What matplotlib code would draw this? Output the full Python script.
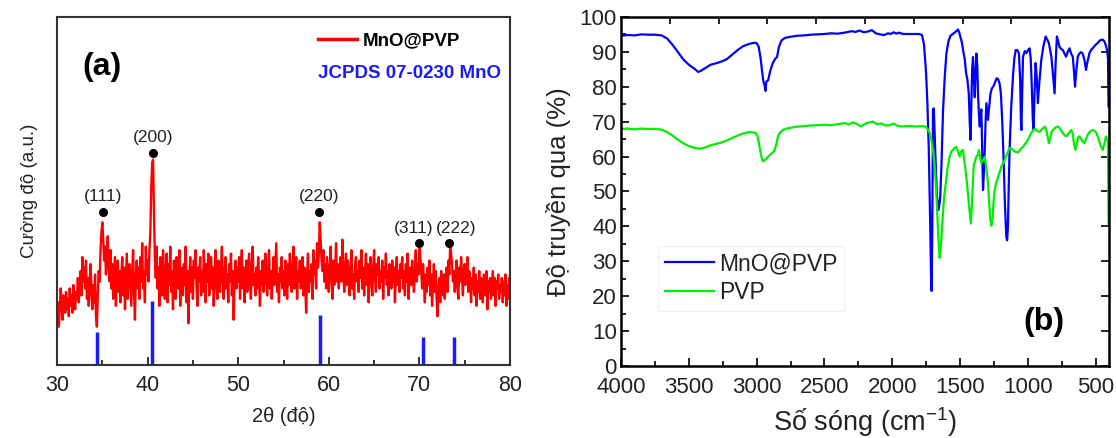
import matplotlib
matplotlib.use("Agg")
import matplotlib.pyplot as plt
import numpy as np
from matplotlib.ticker import MultipleLocator, FixedLocator, NullFormatter

plt.rcParams['font.family'] = ['Liberation Sans', 'DejaVu Sans']
plt.rcParams['mathtext.fontset'] = 'custom'
plt.rcParams['mathtext.rm'] = 'Liberation Sans'
plt.rcParams['mathtext.it'] = 'Liberation Sans:italic'

# ---------------- (a) XRD data ----------------
xrd_start = 30.0
xrd_step = 0.1
xrd_intensity = [
    14, 18, 11, 16, 22, 19, 13, 20, 17, 15,
    21, 16, 19, 14, 22, 17, 20, 15, 23, 18,
    16, 21, 19, 25, 18, 23, 27, 20, 31, 24,
    28, 22, 30, 19, 25, 17, 24, 29, 21, 16,
    23, 18, 26, 14, 11, 20, 27, 24, 33, 38,
    41, 36, 30, 34, 26, 31, 37, 28, 24, 33,
    22, 29, 19, 26, 31, 17, 24, 30, 21, 27,
    18, 25, 31, 20, 28, 16, 24, 32, 19, 26,
    29, 23, 17, 27, 33, 21, 13, 25, 30, 22,
    28, 19, 31, 24, 35, 22, 27, 18, 34, 26,
    30, 24, 33, 38, 51, 58, 59, 44, 31, 25,
    34, 22, 28, 17, 31, 25, 20, 33, 27, 19,
    26, 32, 18, 29, 23, 34, 21, 27, 16, 30,
    24, 19, 31, 26, 22, 33, 17, 28, 25, 20,
    29, 23, 34, 18, 27, 12, 24, 31, 21, 28,
    19, 30, 25, 33, 22, 17, 28, 24, 31, 20,
    27, 21, 33, 26, 18, 29, 24, 32, 20, 25,
    31, 22, 28, 17, 26, 33, 23, 19, 30, 25,
    21, 28, 34, 24, 19, 27, 31, 22, 26, 18,
    29, 24, 32, 20, 27, 13, 25, 30, 22, 28,
    24, 31, 19, 27, 33, 22, 28, 18, 25, 30,
    21, 27, 32, 24, 19, 29, 34, 23, 26, 20,
    28, 22, 31, 25, 17, 27, 23, 30, 21, 26,
    32, 24, 20, 28, 33, 22, 27, 19, 25, 31,
    23, 29, 35, 21, 26, 18, 28, 24, 31, 22,
    27, 20, 30, 25, 19, 29, 23, 32, 26, 21,
    28, 34, 22, 26, 31, 19, 27, 24, 30, 22,
    25, 31, 20, 28, 23, 15, 26, 32, 21, 27,
    24, 29, 19, 33, 26, 30, 22, 35, 28, 32,
    41, 36, 30, 27, 33, 24, 29, 22, 31, 26,
    21, 28, 34, 25, 19, 30, 23, 27, 35, 24,
    29, 22, 26, 31, 24, 36, 28, 21, 27, 32,
    23, 30, 25, 20, 28, 33, 22, 26, 19, 29,
    31, 24, 27, 21, 30, 25, 33, 22, 28, 20,
    26, 32, 23, 29, 18, 27, 31, 24, 20, 28,
    33, 25, 21, 29, 26, 31, 22, 27, 24, 30,
    19, 28, 25, 32, 23, 27, 20, 29, 26, 22,
    30, 24, 28, 18, 26, 31, 23, 27, 21, 29,
    25, 31, 22, 27, 20, 29, 24, 32, 19, 26,
    28, 23, 30, 25, 21, 27, 33, 24, 29, 26,
    35, 31, 27, 22, 29, 24, 18, 26, 21, 28,
    23, 30, 20, 26, 17, 24, 29, 21, 27, 19,
    14, 22, 25, 18, 27, 23, 20, 26, 19, 24,
    28, 21, 30, 26, 35, 32, 29, 24, 27, 21,
    25, 30, 22, 19, 28, 24, 31, 26, 20, 27,
    29, 23, 26, 31, 21, 27, 24, 18, 25, 22,
    28, 20, 26, 17, 24, 21, 27, 19, 25, 22,
    18, 26, 23, 20, 27, 16, 24, 21, 25, 19,
    23, 27, 20, 25, 17, 24, 22, 26, 19, 23,
    21, 25, 18, 24, 20, 26, 17, 23, 19, 25,
    22,
]
ref_pos = [34.4, 40.5, 59.0, 70.4, 73.8]
ref_height = [9.5, 18.5, 14.5, 8.0, 8.0]
peak_labels = ['(111)', '(200)', '(220)', '(311)', '(222)']
peak_pos = [35.1, 40.6, 58.9, 70.0, 73.3]
peak_height = [44.0, 61.0, 44.0, 35.0, 35.0]
label_pos = [35.1, 40.6, 58.9, 69.4, 74.1]

# ---------------- (b) FTIR data ----------------
wn_mno = [4000, 3950, 3900, 3850, 3800, 3750, 3700, 3660, 3620, 3580, 3540, 3500, 3460, 3430, 3410,
          3380, 3340, 3300, 3260, 3220, 3180, 3140, 3100, 3060, 3020, 3000, 2985, 2970, 2960, 2950,
          2942, 2935, 2928, 2915, 2900, 2880, 2860, 2850, 2835, 2815, 2790, 2750, 2700, 2650, 2600,
          2550, 2500, 2450, 2400, 2350, 2300, 2270, 2240, 2210, 2180, 2150, 2120, 2090, 2060, 2030,
          2010, 1990, 1970, 1950, 1920, 1880, 1840, 1800, 1780, 1765, 1750, 1740, 1730, 1720, 1713,
          1709, 1704, 1699, 1693, 1688, 1680, 1670, 1658, 1646, 1636, 1625, 1612, 1600, 1585, 1570,
          1550, 1530, 1515, 1505, 1495, 1485, 1475, 1465, 1455, 1445, 1435, 1428, 1422, 1416, 1410,
          1404, 1397, 1391, 1385, 1379, 1372, 1367, 1360, 1354, 1348, 1342, 1336, 1330, 1324, 1317,
          1311, 1305, 1299, 1293, 1285, 1275, 1265, 1255, 1244, 1230, 1219, 1208, 1198, 1188, 1178,
          1168, 1158, 1152, 1146, 1140, 1134, 1122, 1109, 1099, 1089, 1077, 1065, 1056, 1050, 1047,
          1043, 1035, 1022, 1010, 998, 986, 978, 970, 962, 957, 950, 942, 934, 925, 917,
          900, 885, 868, 856, 844, 835, 826, 815, 802, 795, 785, 775, 766, 753, 741,
          729, 717, 705, 692, 680, 668, 660, 651, 643, 631, 619, 607, 595, 582, 575,
          570, 560, 545, 533, 521, 500, 484, 470, 459, 447, 435, 425, 415, 408, 404]
t_mno = [94.6, 94.8, 94.7, 95.0, 94.9, 94.9, 94.7, 93.8, 92.0, 89.9, 87.8, 86.3, 85.2, 84.2, 84.6,
         85.3, 86.3, 86.7, 87.2, 87.9, 89.2, 90.5, 91.6, 92.2, 92.6, 92.5, 91.5, 88.0, 84.5, 81.5,
         80.6, 78.8, 81.5, 81.8, 84.5, 86.8, 88.2, 88.4, 91.5, 93.3, 94.0, 94.3, 94.6, 94.7, 94.9,
         95.0, 95.1, 95.3, 95.2, 95.5, 95.9, 95.7, 96.1, 95.6, 95.8, 96.2, 95.3, 95.0, 94.8, 95.3,
         95.1, 95.6, 95.2, 95.5, 95.1, 95.1, 95.1, 95.1, 94.8, 92.0, 84.0, 75.0, 62.0, 42.0, 25.0,
         21.5, 40.0, 73.5, 73.8, 68.0, 59.0, 49.0, 44.7, 48.0, 58.0, 73.0, 83.0, 89.5, 93.0, 94.6,
         95.2, 95.8, 96.4, 95.5, 94.0, 92.5, 90.0, 88.0, 84.0, 82.0, 78.0, 70.0, 64.8, 75.0, 85.0,
         88.5, 82.0, 77.0, 84.0, 89.5, 86.0, 78.0, 72.0, 68.6, 72.0, 73.5, 62.0, 50.4, 55.0, 62.0,
         70.0, 75.3, 73.0, 70.5, 74.0, 78.0, 79.5, 80.0, 81.0, 82.4, 82.2, 81.0, 78.0, 70.0, 59.0,
         46.0, 37.0, 36.0, 40.0, 52.0, 62.0, 74.0, 83.0, 88.0, 90.5, 90.5, 89.6, 82.0, 70.0, 67.6,
         75.0, 88.6, 90.2, 89.6, 90.5, 91.0, 88.0, 80.0, 70.0, 67.6, 78.0, 86.8, 83.0, 75.3, 80.0,
         87.7, 91.5, 94.4, 93.5, 92.5, 90.5, 88.6, 84.0, 78.1, 86.0, 94.4, 93.0, 91.4, 90.8, 90.5,
         89.5, 88.6, 90.0, 91.0, 89.5, 88.6, 85.0, 80.0, 84.0, 88.6, 89.5, 89.9, 89.5, 87.7, 86.0,
         84.8, 87.0, 89.6, 90.5, 91.0, 92.0, 92.5, 93.2, 93.4, 93.5, 93.0, 92.0, 90.5, 88.0, 74.3]

wn_pvp = [4000, 3950, 3900, 3850, 3800, 3750, 3700, 3660, 3620, 3580, 3540, 3500, 3460, 3420, 3380,
          3340, 3300, 3260, 3220, 3180, 3140, 3100, 3060, 3030, 3010, 2995, 2982, 2970, 2960, 2950,
          2940, 2928, 2915, 2900, 2885, 2870, 2855, 2842, 2825, 2805, 2780, 2740, 2700, 2650, 2600,
          2550, 2500, 2450, 2400, 2350, 2320, 2290, 2260, 2230, 2200, 2170, 2140, 2110, 2080, 2050,
          2020, 1990, 1960, 1930, 1900, 1860, 1820, 1780, 1755, 1740, 1723, 1710, 1699, 1686, 1675,
          1665, 1657, 1650, 1643, 1635, 1628, 1618, 1605, 1590, 1576, 1563, 1551, 1539, 1527, 1515,
          1502, 1490, 1478, 1465, 1453, 1440, 1429, 1420, 1413, 1405, 1399, 1390, 1379, 1367, 1360,
          1350, 1342, 1330, 1317, 1305, 1293, 1285, 1276, 1268, 1260, 1252, 1244, 1232, 1219, 1207,
          1195, 1183, 1170, 1150, 1134, 1120, 1109, 1090, 1072, 1055, 1035, 1015, 998, 980, 961,
          945, 930, 912, 895, 875, 862, 852, 844, 835, 825, 814, 795, 777, 760, 741,
          726, 711, 695, 679, 668, 658, 648, 638, 628, 619, 605, 592, 582, 570, 558,
          540, 521, 508, 496, 484, 472, 460, 447, 435, 423, 415, 408, 404]
t_pvp = [67.9, 68.0, 67.8, 68.0, 67.9, 67.9, 67.7, 67.0, 66.0, 64.8, 63.8, 63.0, 62.5, 62.2, 62.6,
         63.2, 63.6, 64.0, 64.6, 65.3, 66.0, 66.6, 67.0, 66.9, 66.8, 66.0, 63.7, 61.0, 59.2, 58.6,
         59.0, 59.4, 60.0, 60.5, 61.0, 61.6, 63.5, 65.8, 67.0, 67.6, 68.0, 68.3, 68.6, 68.7, 68.9,
         69.0, 69.1, 69.0, 69.3, 69.6, 69.2, 69.8, 69.3, 68.6, 69.4, 69.8, 70.0, 69.2, 69.5, 68.9,
         69.0, 69.4, 68.8, 68.6, 68.7, 68.7, 68.6, 68.7, 68.6, 68.0, 66.7, 64.5, 61.9, 57.1, 50.0,
         42.0, 35.0, 31.0, 33.0, 38.0, 42.0, 48.0, 52.3, 57.0, 60.0, 61.5, 61.9, 62.5, 62.8, 61.5,
         60.0, 61.5, 61.9, 58.0, 54.2, 49.0, 44.7, 40.8, 45.0, 52.0, 57.1, 58.5, 60.0, 60.5, 61.9,
         59.5, 58.1, 58.8, 60.0, 56.5, 52.3, 47.0, 41.8, 40.2, 42.0, 47.0, 50.4, 52.5, 54.2, 55.5,
         57.1, 58.0, 59.0, 61.0, 62.4, 62.3, 61.9, 61.3, 61.2, 62.0, 62.8, 63.8, 64.8, 66.3, 67.6,
         67.9, 67.3, 67.1, 67.8, 68.6, 67.5, 65.5, 63.8, 65.0, 67.0, 67.6, 68.3, 68.6, 67.9, 66.7,
         66.0, 65.8, 66.8, 67.6, 66.5, 63.5, 61.9, 63.5, 65.5, 65.8, 65.0, 64.2, 63.8, 65.0, 66.2,
         67.2, 67.6, 67.4, 66.9, 65.8, 64.3, 63.0, 61.9, 63.5, 65.8, 64.8, 64.5, 40.5]

x_xrd = xrd_start + xrd_step * np.arange(len(xrd_intensity))

fig = plt.figure(figsize=(11.16, 4.38), dpi=100)
tick_col = '#222222'

# ---------------- panel (a) ----------------
axa = fig.add_axes([0.0511, 0.1667, 0.4059, 0.7945])
axa.plot(x_xrd, xrd_intensity, color='#ff0000', lw=1.7, label='MnO@PVP')
axa.vlines(ref_pos, 0, ref_height, color='#1a1aff', lw=2.5)
axa.plot(peak_pos, peak_height, 'o', color='black', ms=5.5)
for lab, xl, yp in zip(peak_labels, label_pos, peak_height):
    axa.text(xl, yp + 2.2, lab, ha='center', va='bottom', fontsize=12.5, color='#222222')
axa.set_xlim(30, 80)
axa.set_ylim(0, 100)
axa.set_yticks([])
axa.xaxis.set_major_locator(MultipleLocator(10))
axa.xaxis.set_minor_locator(MultipleLocator(5))
axa.tick_params(axis='x', which='both', direction='in', labelsize=15.5, colors=tick_col, pad=7)
axa.tick_params(axis='x', which='major', length=6, width=1.3)
axa.tick_params(axis='x', which='minor', length=3.5, width=1.3)
for s in axa.spines.values():
    s.set_linewidth(1.5)
    s.set_color('#333333')
axa.set_xlabel('2θ (độ)', fontsize=14.5, color=tick_col, labelpad=8)
axa.set_ylabel('Cường độ (a.u.)', fontsize=13.5, color=tick_col, labelpad=14)
leg_a = axa.legend(loc='center left', bbox_to_anchor=(0.576, 0.931), frameon=False,
                   handlelength=2.1, handletextpad=0.3, borderpad=0, borderaxespad=0,
                   prop={'size': 13.5, 'weight': 'bold'})
for ln in leg_a.get_lines():
    ln.set_linewidth(2.5)
axa.text(0.576, 0.839, 'JCPDS 07-0230 MnO', transform=axa.transAxes, color='#1a1aff',
         fontsize=13.5, fontweight='bold', ha='left', va='center')
axa.text(0.057, 0.856, '(a)', transform=axa.transAxes, fontsize=23, fontweight='bold',
         ha='left', va='center', color='black')

# ---------------- panel (b) ----------------
axb = fig.add_axes([0.5565, 0.1644, 0.4373, 0.797])
axb.plot(wn_mno, t_mno, color='#0000ff', lw=1.6, label='MnO@PVP')
axb.plot(wn_pvp, t_pvp, color='#00ee00', lw=1.6, label='PVP')
axb.set_xlim(4000, 400)
axb.set_ylim(0, 100)
axb.xaxis.set_major_locator(FixedLocator([4000, 3500, 3000, 2500, 2000, 1500, 1000, 500]))
axb.xaxis.set_minor_locator(FixedLocator([3750, 3250, 2750, 2250, 1750, 1250, 750]))
axb.yaxis.set_major_locator(MultipleLocator(10))
axb.yaxis.set_minor_locator(MultipleLocator(5))
axb.tick_params(which='both', direction='in', labelsize=16, colors=tick_col, right=True)
axb.tick_params(which='major', length=6, width=1.4)
axb.tick_params(which='minor', length=3.5, width=1.4, right=False)
axb.tick_params(axis='x', pad=8)
axb.tick_params(axis='y', pad=3)
for s in axb.spines.values():
    s.set_linewidth(1.8)
    s.set_color('black')
axb.set_xlabel('Số sóng (cm$^{-1}$)', fontsize=19.5, color=tick_col, labelpad=5)
axb.set_ylabel('Độ truyền qua (%)', fontsize=18.5, color=tick_col, labelpad=6)
top = axb.twiny()
top.set_xlim(0, 10)
top.xaxis.set_major_locator(FixedLocator([2, 4, 6, 8]))
top.xaxis.set_minor_locator(FixedLocator([1, 3, 5, 7, 9]))
top.xaxis.set_major_formatter(NullFormatter())
top.tick_params(which='both', direction='in', length=5, width=1.4, colors=tick_col)
for s in top.spines.values():
    s.set_visible(False)
leg_b = axb.legend(loc='upper left', bbox_to_anchor=(0.076, 0.345), frameon=True, fancybox=False,
                   handlelength=2.15, handletextpad=0.2, borderpad=0.3, labelspacing=0.25,
                   borderaxespad=0, prop={'size': 16.5})
leg_b.get_frame().set_edgecolor('#eeeeee')
leg_b.get_frame().set_linewidth(1.0)
for t in leg_b.get_texts():
    t.set_color(tick_col)
axb.text(0.867, 0.126, '(b)', transform=axb.transAxes, fontsize=23, fontweight='bold',
         ha='center', va='center', color='black')

fig.savefig('out.png', dpi=100)
